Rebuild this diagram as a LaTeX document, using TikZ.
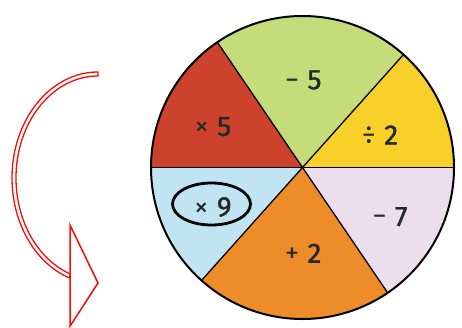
\documentclass[tikz,border=0pt]{standalone}
\usepackage{fontspec}
\setmainfont{Fira Sans}
\newfontfamily\digitfont[FakeBold=1.3]{Fira Sans}
\usetikzlibrary{shapes.geometric}
\definecolor{cgreen}{RGB}{196,221,122}
\definecolor{cred}{RGB}{204,66,44}
\definecolor{cyellow}{RGB}{248,208,42}
\definecolor{cblue}{RGB}{192,228,242}
\definecolor{corange}{RGB}{238,140,42}
\definecolor{cpink}{RGB}{236,222,236}
\definecolor{ctext}{RGB}{40,40,40}
\definecolor{cred2}{RGB}{250,10,10}
\newcommand{\lab}[2]{#1\hspace{0.3em}{\digitfont #2}}
\tikzset{
  sector/.style={line width=1.3pt},
  lbl/.style={text=ctext,font=\fontsize{28}{32}\selectfont,inner sep=0pt},
  arrowband/.style={draw=cred2,line width=1.3pt,fill=white,line join=miter},
  arrowhd/.style={draw=cred2,line width=1.5pt,fill=white,line join=miter},
  ring/.style={draw=black,line width=2.8pt}
}
\begin{document}
\begin{tikzpicture}[x=1pt,y=1pt]
\useasboundingbox (0,0) rectangle (462,327);
% wheel
\begin{scope}[shift={(302.5,159.5)}]
\fill[cgreen] (0,0) -- (48.2:151.5) arc[start angle=48.2,end angle=124.2,radius=151.5] -- cycle;
\fill[cred] (0,0) -- (124.2:151.5) arc[start angle=124.2,end angle=180,radius=151.5] -- cycle;
\fill[cblue] (0,0) -- (180:151.5) arc[start angle=180,end angle=228.2,radius=151.5] -- cycle;
\fill[corange] (0,0) -- (228.2:151.5) arc[start angle=228.2,end angle=304.2,radius=151.5] -- cycle;
\fill[cpink] (0,0) -- (304.2:151.5) arc[start angle=304.2,end angle=360,radius=151.5] -- cycle;
\fill[cyellow] (0,0) -- (0:151.5) arc[start angle=0,end angle=48.2,radius=151.5] -- cycle;
\draw[sector] (0:151.5) -- (180:151.5);
\draw[sector] (48.2:151.5) -- (228.2:151.5);
\draw[sector] (124.2:151.5) -- (304.2:151.5);
\draw[line width=2pt] (0,0) circle[radius=151.5];
\end{scope}
% labels
\node[lbl] (m5) at (303.3,247) {\lab{−}{5}};
\node[lbl] (t5) at (213,200.3) {\lab{×}{5}};
\node[lbl] (d2) at (380,192) {\lab{÷}{2}};
\node[lbl] (t9) at (213,120) {\lab{×}{9}};
\node[lbl] (p2) at (303.3,73.7) {\lab{+}{2}};
\node[lbl] (m7) at (390,110.3) {\lab{−}{7}};
\node[ring,ellipse,minimum width=78pt,minimum height=42pt] (ring) at (211.5,123) {};
% red arrow
\coordinate (ac) at (98,149);
\draw[arrowband] ([shift={(90:86 and 106)}]ac) arc[start angle=90,end angle=250.5,x radius=86,y radius=106]
  -- ([shift={(250.5:82 and 102)}]ac) arc[start angle=250.5,end angle=90,x radius=82,y radius=102] -- cycle;
\coordinate (h1) at (70,102);
\coordinate (h2) at (98,44);
\coordinate (h3) at (70,0.8);
\draw[arrowhd] (h1) -- (h2) -- (h3) -- cycle;
\end{tikzpicture}
\end{document}
